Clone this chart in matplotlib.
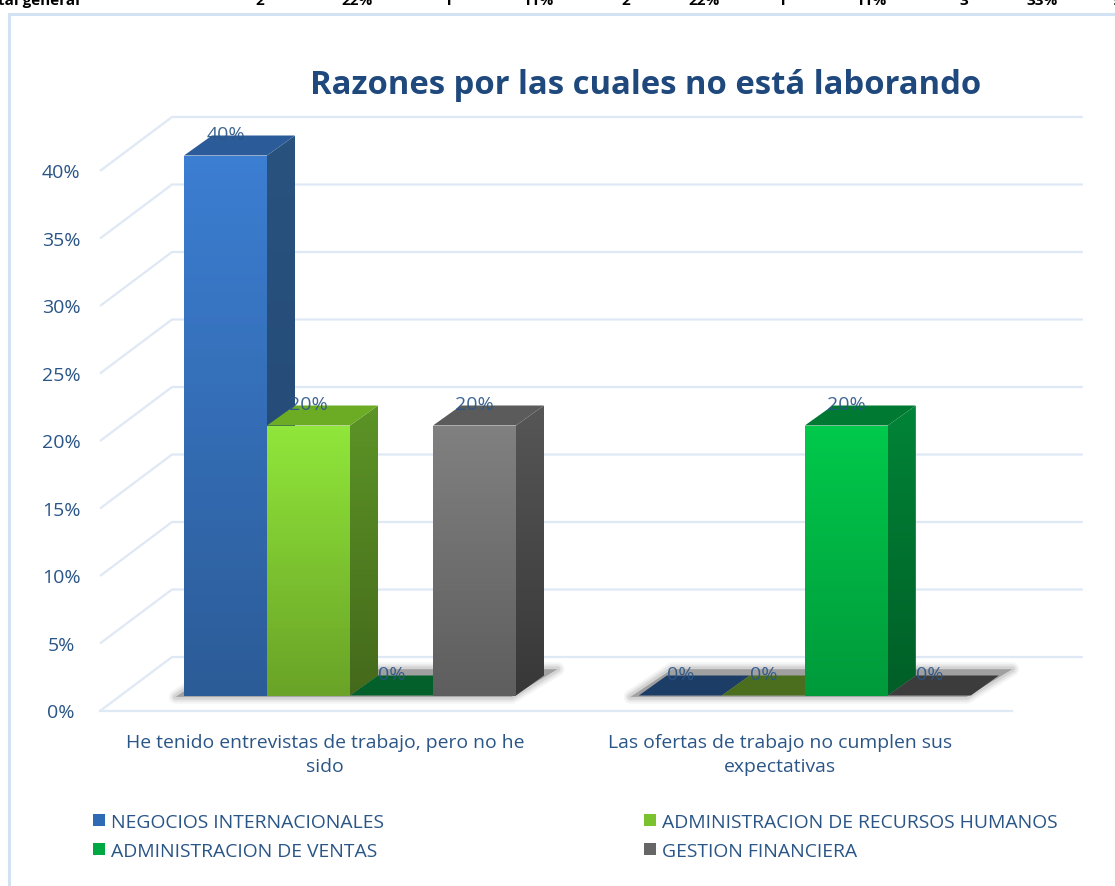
import numpy as np
import matplotlib
matplotlib.use("Agg")
import matplotlib.pyplot as plt
from matplotlib.colors import LinearSegmentedColormap
from matplotlib.patches import Patch, Polygon, Rectangle

# --- data
categories = ["He tenido entrevistas de trabajo, pero no he\nsido",
              "Las ofertas de trabajo no cumplen sus\nexpectativas"]
series = ["NEGOCIOS INTERNACIONALES", "ADMINISTRACION DE RECURSOS HUMANOS",
          "ADMINISTRACION DE VENTAS", "GESTION FINANCIERA"]
negocios = [40, 0]
recursos = [20, 0]
ventas = [0, 20]
gestion = [20, 0]
y_ticks = [0, 5, 10, 15, 20, 25, 30, 35, 40]
top_row = ["2", "22%", "1", "11%", "2", "22%", "1", "11%", "3", "33%", "9"]
top_row_x = [260, 357, 447, 538, 626, 704, 781, 871, 964, 1042, 1117]

# front top, front bottom, side top, side bottom, top face, legend
colors = [("#3c7ed2", "#2c5c98", "#29527f", "#234873", "#2b5c99", "#2f6ab5"),
          ("#90e63a", "#6aa327", "#5c9426", "#44691b", "#6cab24", "#7cc22e"),
          ("#00c94b", "#009a3b", "#008437", "#005f27", "#007a33", "#00a844"),
          ("#808080", "#5e5e5e", "#565656", "#383838", "#5b5b5b", "#666666")]
flat_colors = ["#1c3d66", "#4a6e1e", "#04602a", "#3c3c3c"]
text_col = "#2a5587"
title_col = "#1f497d"
grid_col = "#dfe9f6"

W, H = 1115, 887
# axes scale: x in bar widths, y in percent
PX_X = 83.0
PX_Y = 13.5
X0, Y0 = 184, 696.5
group_start = [0, 5.48]
dx, dy = 28 / PX_X, 20 / PX_Y
wall_dx, wall_dy = 72 / PX_X, 54 / PX_Y
floor_y = -15.5 / PX_Y
floor_x = (100 - X0) / PX_X

plt.rcParams["font.family"] = ["Open Sans", "DejaVu Sans"]
fig = plt.figure(figsize=(W / 100, H / 100), dpi=100)
ax = fig.add_axes((0, 0, 1, 1))
ax.axis("off")
xlim = (-X0 / PX_X, (W - X0) / PX_X)
ylim = ((Y0 - H) / PX_Y, Y0 / PX_Y)


def fill_grad(pts, c_top, c_bot, z):
    """gradient filled polygon, clipped with imshow"""
    cmap = LinearSegmentedColormap.from_list("g", [c_top, c_bot])
    pts = np.array(pts)
    grad = np.linspace(0, 1, 64).reshape(-1, 1)
    im = ax.imshow(grad, cmap=cmap, aspect="auto", zorder=z,
                   extent=(pts[:, 0].min(), pts[:, 0].max(),
                           pts[:, 1].min(), pts[:, 1].max()))
    poly = Polygon(pts, closed=True, transform=ax.transData, fc="none", ec="none")
    ax.add_patch(poly)
    im.set_clip_path(poly)


# chart border, only top and left fall inside the picture
fig.add_artist(Rectangle((8.5 / W, -0.1), 1.2, 1.1 - 14.5 / H, fc="none",
                         ec="#d3e2f3", lw=2.2, transform=fig.transFigure))

# walls
for v in y_ticks:
    fy = v + floor_y
    ax.plot([floor_x, floor_x + wall_dx, 10.83], [fy, fy + wall_dy, fy + wall_dy],
            color=grid_col, lw=1.6, zorder=1, solid_capstyle="butt")
    ax.text((61 - X0) / PX_X, fy - 0.1, "%d%%" % v, color=text_col, fontsize=14,
            ha="center", va="center")
ax.plot([floor_x, 9.976], [floor_y, floor_y], color=grid_col, lw=1.6, zorder=1)

# shadows under each group
for g in group_start:
    pts = [(g - 0.1, -0.1), (g + 3.95, -0.1), (g + 4.5, 1.95), (g + 0.4, 1.95)]
    for lw, a in [(10, 0.08), (7, 0.12), (4, 0.18)]:
        ax.add_patch(Polygon(pts, closed=True, fc="none", ec="#808080", lw=lw,
                             alpha=a, zorder=2, joinstyle="round"))
    ax.add_patch(Polygon(pts, closed=True, fc="#a0a0a0", ec="none", zorder=2))

# bars, drawn left to right so the side faces are covered by the next bar
values = [negocios, recursos, ventas, gestion]
for c, g in enumerate(group_start):
    for s in range(len(series)):
        v = values[s][c]
        x = g + s
        col = colors[s]
        top = [(x, v), (x + 1, v), (x + 1 + dx, v + dy), (x + dx, v + dy)]
        z = 3 + 0.1 * s
        if v == 0:
            ax.add_patch(Polygon(top, closed=True, fc=flat_colors[s], ec="none", zorder=z))
        else:
            side = [(x + 1, 0), (x + 1 + dx, dy), (x + 1 + dx, v + dy), (x + 1, v)]
            fill_grad(side, col[2], col[3], z)
            ax.add_patch(Polygon(top, closed=True, fc=col[4], ec="none", zorder=z))
            fill_grad([(x, 0), (x + 1, 0), (x + 1, v), (x, v)], col[0], col[1], z + 0.01)
    for s in range(len(series)):
        v = values[s][c]
        ax.text(g + s + 0.5, v + 1.6, "%d%%" % v, color=text_col, fontsize=14,
                ha="center", va="center", zorder=6, alpha=0.9)
    ax.text(g + 2 - 25 / PX_X, -58.5 / PX_Y, categories[c], color=text_col, fontsize=13.95,
            ha="center", va="center", linespacing=1.38, zorder=6)

ax.set_xlim(xlim)
ax.set_ylim(ylim)

fig.text(646 / W, 1 - 86 / H, "Razones por las cuales no está laborando",
         color=title_col, fontsize=23.6, fontweight="bold", ha="center", va="center")

# clipped row of the sheet above the chart
fig.text(80 / W, 1 - 5 / H, "Total general", color="black", fontsize=11,
         fontweight="bold", ha="right", va="baseline")
for x, t in zip(top_row_x, top_row):
    fig.text(x / W, 1 - 5 / H, t, color="black", fontsize=11, fontweight="bold",
             ha="center", va="baseline")

# legend fills by column
order = [0, 2, 1, 3]
handles = [Patch(fc=colors[i][5], ec="none") for i in order]
fig.legend(handles, [series[i] for i in order], ncol=2, frameon=False, fontsize=13.95,
           labelcolor=text_col, loc="upper left", bbox_to_anchor=(93 / W, 1 - 814 / H),
           borderpad=0, borderaxespad=0, handlelength=0.62, handleheight=0.62,
           handletextpad=0.32, labelspacing=0.55, columnspacing=13.4)

fig.savefig("out.png", dpi=100)
